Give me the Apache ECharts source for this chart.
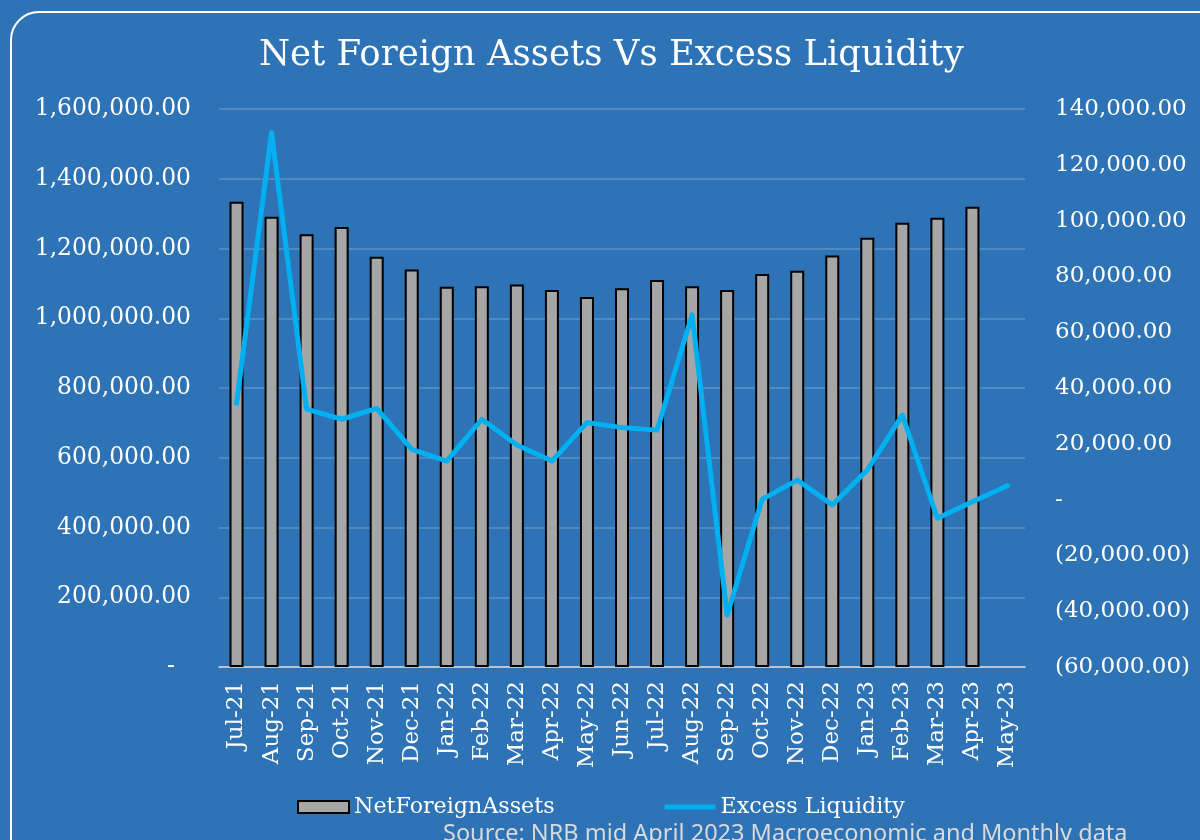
<!DOCTYPE html>
<html>
<head>
<meta charset="utf-8">
<script src="https://cdn.jsdelivr.net/npm/echarts@6/dist/echarts.min.js"></script>
<style>
  html, body { margin: 0; padding: 0; background: #2e73b5; }
  #chart { width: 1200px; height: 840px; }
</style>
</head>
<body>
<div id="chart"></div>
<script>
const months = [
  "Jul-21", "Aug-21", "Sep-21", "Oct-21", "Nov-21", "Dec-21",
  "Jan-22", "Feb-22", "Mar-22", "Apr-22", "May-22", "Jun-22",
  "Jul-22", "Aug-22", "Sep-22", "Oct-22", "Nov-22", "Dec-22",
  "Jan-23", "Feb-23", "Mar-23", "Apr-23", "May-23"
];

// bars (May-23 has no value)
const netForeignAssets = [
  1334000, 1291000, 1241000, 1262000, 1176000, 1140000,
  1090000, 1092000, 1097000, 1081000, 1061000, 1086000,
  1110000, 1092000, 1081000, 1127000, 1136000, 1180000,
  1231000, 1274000, 1288000, 1320000, null
];

// line
const excessLiquidity = [
  34500, 131600, 32400, 28800, 32700, 18000,
  13800, 28800, 19600, 13800, 27600, 25800,
  24900, 66200, -41400, 100, 7000, -1900,
  10600, 30300, -6700, -800, 5000
];

const leftTicks = { min: 0, max: 1600000, interval: 200000 };
const rightTicks = { min: -60000, max: 140000, interval: 20000 };

const serif = "DejaVu Serif";
const fmt = (v) => Math.abs(v).toLocaleString("en-US", { minimumFractionDigits: 2, maximumFractionDigits: 2 });

const chart = echarts.init(document.getElementById("chart"), null, { renderer: "canvas" });

chart.setOption({
  backgroundColor: "#2e73b5",
  animation: false,
  title: {
    text: "Net Foreign Assets Vs Excess Liquidity",
    left: 254,
    top: 33,
    textStyle: { color: "#fff", fontFamily: serif, fontWeight: "normal", fontSize: 35.5 }
  },
  grid: { left: 219, right: 175, top: 109, bottom: 173 },
  legend: {
    top: 796,
    left: 297,
    padding: 0,
    itemGap: 110,
    itemWidth: 51,
    itemHeight: 12,
    textStyle: { color: "#fff", fontFamily: serif, fontSize: 22.2 },
    data: [
      { name: "NetForeignAssets", icon: "rect" },
      {
        name: "Excess Liquidity",
        icon: "path://M0,0 L51,0 L51,5 L0,5 Z",
        itemStyle: { color: "#00b0f0", borderWidth: 0 }
      }
    ]
  },
  xAxis: {
    type: "category",
    data: months,
    axisLine: { lineStyle: { color: "#d9d9d9", width: 1.5 } },
    axisTick: { length: 6, lineStyle: { color: "#d9d9d9", width: 1.5 } },
    axisLabel: {
      rotate: 90,
      interval: 0,
      margin: 14,
      color: "#fff",
      fontFamily: serif,
      fontSize: 23
    }
  },
  yAxis: [
    {
      type: "value",
      ...leftTicks,
      axisLine: { show: false },
      axisTick: { show: false },
      splitLine: { lineStyle: { color: "rgba(255,255,255,0.22)", width: 1.5 } },
      axisLabel: {
        margin: 28,
        color: "#fff",
        fontFamily: serif,
        fontSize: 23.4,
        formatter: (v) => (v === 0 ? "{d|-}" : fmt(v)),
        rich: { d: { color: "#fff", fontFamily: serif, fontSize: 23.4, padding: [0, 16, 0, 0] } }
      }
    },
    {
      type: "value",
      ...rightTicks,
      position: "right",
      axisLine: { show: false },
      axisTick: { show: false },
      splitLine: { show: false },
      axisLabel: {
        margin: 30,
        color: "#fff",
        fontFamily: serif,
        fontSize: 23,
        formatter: (v) => (v === 0 ? "-" : v < 0 ? "(" + fmt(v) + ")" : fmt(v))
      }
    }
  ],
  series: [
    {
      name: "NetForeignAssets",
      type: "bar",
      yAxisIndex: 0,
      barWidth: 14,
      data: netForeignAssets,
      itemStyle: { color: "#a6a6a6", borderColor: "#000", borderWidth: 2 }
    },
    {
      name: "Excess Liquidity",
      type: "line",
      yAxisIndex: 1,
      data: excessLiquidity,
      showSymbol: false,
      symbol: "none",
      z: 5,
      lineStyle: { color: "#00b0f0", width: 5, join: "round", cap: "round" },
      itemStyle: { color: "#00b0f0" }
    }
  ],
  graphic: [
    {
      type: "rect",
      shape: { x: 11, y: 12, width: 1260, height: 900, r: 28 },
      style: { fill: "none", stroke: "#ffffff", lineWidth: 2 },
      silent: true
    },
    {
      type: "text",
      left: 443,
      top: 822,
      style: {
        text: "Source: NRB mid April 2023 Macroeconomic and Monthly data",
        fill: "#d9d9d9",
        font: "23.5px 'Noto Sans'"
      },
      silent: true
    }
  ]
});
</script>
</body>
</html>
